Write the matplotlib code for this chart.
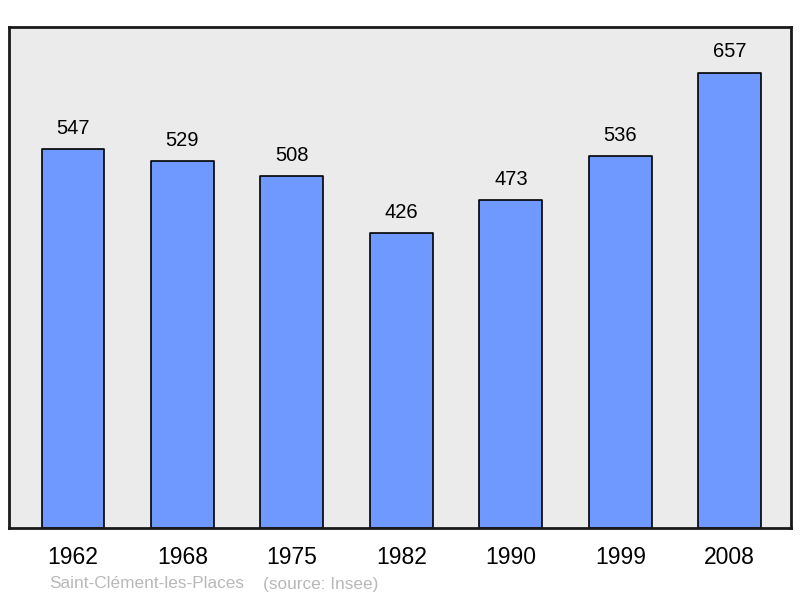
import matplotlib.pyplot as plt

# données
years = ["1962", "1968", "1975", "1982", "1990", "1999", "2008"]
population = [547, 529, 508, 426, 473, 536, 657]
commune = "Saint-Clément-les-Places"
source = "(source: Insee)"

plt.rcParams["font.family"] = ["Liberation Sans", "DejaVu Sans"]

fig = plt.figure(figsize=(8, 5.98), dpi=100)
ax = fig.add_axes([9 / 800, 70 / 598, 782 / 800, 501 / 598])
ax.set_facecolor("#ebebeb")

x = list(range(len(years)))
bars = ax.bar(x, population, width=0.575, color="#7099ff",
              edgecolor="black", linewidth=1.2, joinstyle="round")

for xi, v in zip(x, population):
    ax.annotate(str(v), (xi, v), xytext=(0, 8), textcoords="offset points",
                ha="center", va="bottom", fontsize=14.5)

ax.set_xlim(-0.585, 6.56)
ax.set_ylim(0, 722.7)
ax.set_yticks([])
ax.set_xticks(x)
ax.set_xticklabels(years, fontsize=16.5)
ax.tick_params(axis="x", length=0, pad=13)
for s in ax.spines.values():
    s.set_linewidth(2)
    s.set_color("#1a1a1a")

fig.text(49 / 800, 1 - 584 / 598, commune, fontsize=12.4, color="#b8b8b8",
         va="center", ha="left")
fig.text(263 / 800, 1 - 584 / 598, source, fontsize=12.4, color="#b8b8b8",
         va="center", ha="left")

fig.savefig("out.png", dpi=100)
